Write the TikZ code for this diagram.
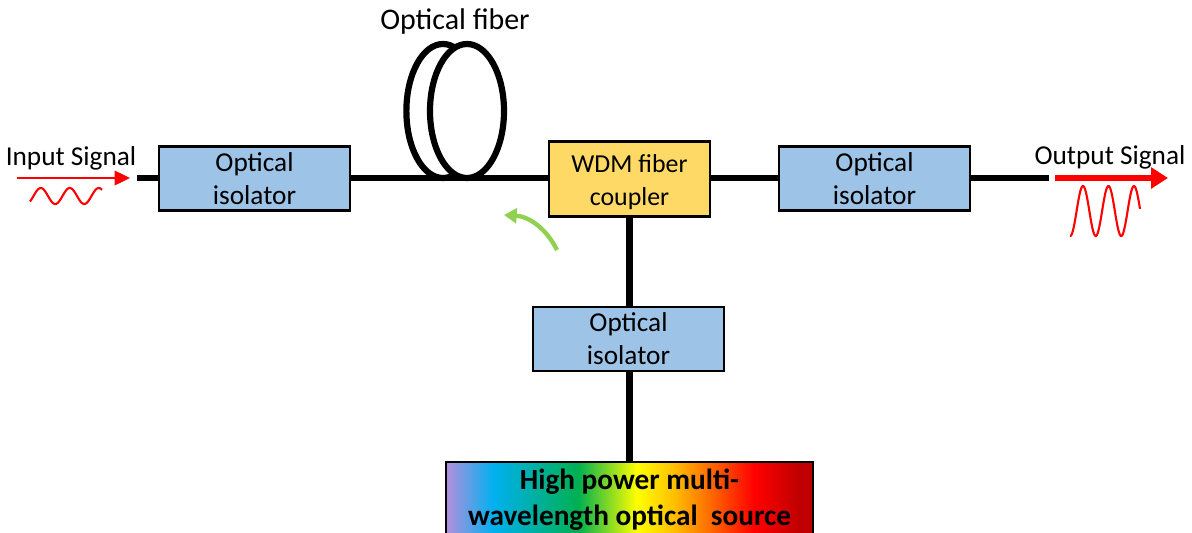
\documentclass[tikz,border=0pt]{standalone}
\usepackage{fontspec}
\setmainfont{Carlito}
\usetikzlibrary{arrows.meta,positioning,shapes.geometric}
\definecolor{isoblue}{HTML}{9DC3E6}
\definecolor{coupleryellow}{HTML}{FFD966}
\definecolor{arrowgreen}{HTML}{92D050}
\definecolor{srcpurple}{HTML}{B48FDC}
\definecolor{srcblue}{HTML}{00B0F0}
\definecolor{srcgreen}{HTML}{00B050}
\definecolor{srcorange}{HTML}{FFC000}
\definecolor{srcdark}{HTML}{C00000}
\pgfdeclarehorizontalshading{rainbowsrc}{100bp}{
  color(0bp)=(srcpurple); color(25bp)=(srcpurple); color(31.5bp)=(srcblue);
  color(43bp)=(srcgreen); color(51bp)=(yellow); color(56bp)=(srcorange);
  color(67bp)=(red); color(73bp)=(srcdark); color(100bp)=(srcdark)}
\tikzset{
  labeltext/.style={font=\fontsize{19.4}{23.5}\selectfont,align=center,inner sep=0pt},
  isobox/.style={labeltext,draw=black,line width=1.9pt,fill=isoblue,outer sep=0pt,
    minimum width=4.77cm,minimum height=1.6cm},
  couplerbox/.style={labeltext,font=\fontsize{18.4}{23.5}\selectfont,draw=black,line width=1.9pt,
    fill=coupleryellow,outer sep=0pt,minimum width=4.03cm,minimum height=1.88cm},
  srcbox/.style={font=\fontsize{20.8}{25.5}\selectfont\bfseries,align=center,draw=black,line width=1.9pt,
    shading=rainbowsrc,outer sep=0pt,inner sep=0pt,minimum width=9.18cm,minimum height=1.9cm},
  fiberline/.style={line width=4.4pt},
  fiberloop/.style={ellipse,draw=black,line width=4.4pt,fill=white,inner sep=0pt},
  wavecurve/.style={red,line width=1.5pt},
}
\begin{document}
\begin{tikzpicture}[x=0.025cm,y=-0.025cm]
  \useasboundingbox (0,0) rectangle (1192,533);
  % fiber loops
  \node[fiberloop,minimum width=1.83cm,minimum height=3.35cm] (loopback) at (443,111) {};
  \node[fiberloop,minimum width=1.85cm,minimum height=3.35cm] (loopfront) at (467,111) {};
  \node[labeltext,font=\fontsize{21.3}{23.5}\selectfont] (fiberlabel) at (455,22) {Optical fiber};
  % boxes
  \node[isobox] (isoin) at (254.5,178.5) {Optical\\isolator};
  \node[couplerbox] (coupler) at (629.5,179) {\rule{0pt}{17pt}WDM fiber\\coupler};
  \node[isobox] (isoout) at (874.5,178.5) {Optical\\isolator};
  \node[isobox] (isopump) at (628.5,339) {Optical\\isolator};
  \node[srcbox] (source) at (629.5,500) {High power multi-\\wavelength optical\ \ source};
  % fiber path
  \coordinate (fiberin) at (137,178);
  \coordinate (fiberout) at (1049,178);
  \draw[fiberline] (fiberin) -- (isoin.west |- fiberin);
  \draw[fiberline] (isoin.east |- fiberin) -- (coupler.west |- fiberin);
  \draw[fiberline] (coupler.east |- fiberin) -- (isoout.west |- fiberin);
  \draw[fiberline] (isoout.east |- fiberin) -- (fiberout);
  \draw[fiberline] (coupler.south) -- (coupler.south |- isopump.north);
  \draw[fiberline] (coupler.south |- isopump.south) -- (coupler.south |- source.north);
  % input signal
  \node[labeltext] (inlabel) at (71,158) {Input Signal};
  \coordinate (instart) at (17,178);
  \coordinate (inend) at (130,178);
  \draw[red,line width=1pt,-{Triangle[length=11pt,width=10.5pt]}] (instart) -- (inend);
  \draw[wavecurve,domain=30:102,samples=80]
  plot (\x,{196-8*sin(12.41*(\x-33.5))});
  % output signal
  \node[labeltext] (outlabel) at (1110,157) {Output Signal};
  \coordinate (outstart) at (1055,178);
  \coordinate (outend) at (1168,178);
  \draw[red,line width=4.2pt,-{Triangle[length=12pt,width=14.5pt]}] (outstart) -- (outend);
  \draw[wavecurve,domain=1070:1140,samples=100]
  plot (\x,{211-25*sin(14.12*(\x-1076.6))});
  % green arrow
  \coordinate (pumpstart) at (557,250);
  \coordinate (pumpend) at (504,215);
  \draw[arrowgreen,line width=3.1pt,-{Triangle[length=9pt,width=10.5pt]}] (pumpstart) to[bend right=30] (pumpend);
\end{tikzpicture}
\end{document}
